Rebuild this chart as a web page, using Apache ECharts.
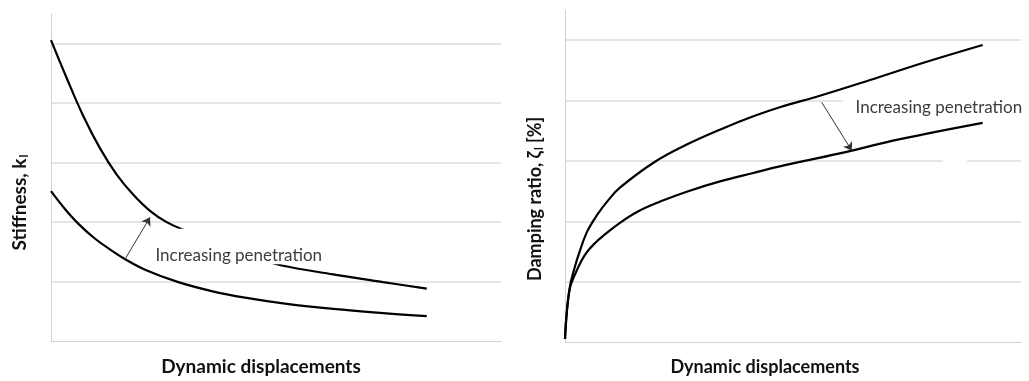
<!DOCTYPE html>
<html>
<head>
<meta charset="utf-8">
<script src="https://cdn.jsdelivr.net/npm/echarts@6/dist/echarts.min.js"></script>
<style>
  html, body { margin: 0; padding: 0; background: #ffffff; }
  #chart { width: 1029px; height: 381px; }
</style>
</head>
<body>
<div id="chart"></div>
<script>
// Stiffness vs dynamic displacement (left panel)
const stiffLowPenX  = [0, 0.35, 0.72, 1.09, 1.46, 1.83, 2.2, 2.57, 3.09, 3.6, 4.1, 4.6, 5.13, 6.27, 7.38, 8.35];
const stiffLowPenY  = [5.06, 4.42, 3.78, 3.24, 2.80, 2.46, 2.19, 2.0, 1.82, 1.65, 1.51, 1.39, 1.27, 1.12, 0.99, 0.88];
const stiffHighPenX = [0, 0.31, 0.61, 0.98, 1.35, 1.64, 2.09, 2.83, 3.57, 4.31, 5.2, 6.27, 7.38, 8.35];
const stiffHighPenY = [2.52, 2.22, 1.97, 1.72, 1.52, 1.38, 1.20, 0.99, 0.84, 0.73, 0.63, 0.54, 0.47, 0.42];

// Damping ratio vs dynamic displacement (right panel)
const dampLowPenX  = [0, 0.04, 0.11, 0.2, 0.3, 0.48, 0.7, 0.95, 1.21, 1.94, 2.67, 3.5, 4.13, 4.71, 5.59, 6.69, 7.88, 9.16];
const dampLowPenY  = [0.05, 0.5, 0.93, 1.2, 1.45, 1.82, 2.10, 2.35, 2.56, 2.97, 3.27, 3.55, 3.74, 3.89, 4.08, 4.34, 4.63, 4.92];
const dampHighPenX = [0, 0.04, 0.11, 0.22, 0.35, 0.48, 0.66, 0.84, 1.16, 1.57, 2.1, 2.67, 3.4, 4.13, 4.71, 6.0, 7.35, 9.16];
const dampHighPenY = [0.05, 0.5, 0.9, 1.12, 1.33, 1.49, 1.64, 1.76, 1.95, 2.15, 2.33, 2.49, 2.66, 2.80, 2.91, 3.12, 3.36, 3.63];

// Annotations: arrow start/end, text anchor and the white panel behind the text (data units)
const stiffArrow = [[1.64, 1.37], [2.2, 2.08]];
const stiffLabelAt = [2.31, 1.44];
const stiffLabelPanel = [[2.2, 1.29], [6.2, 1.89]];
const dampArrow = [[5.63, 3.97], [6.29, 3.17]];
const dampLabelAt = [6.36, 3.88];
const dampLabelPanel = [[6.10, 3.72], [10, 4.10]];
const dampGapPanel = [[8.29, 2.96], [8.82, 3.05]];

const annotationText = 'Increasing penetration';
const xTitle = 'Dynamic displacements';

// Axis ranges
const xMin = 0, xMax = 10;
const yMin = 0, yMax = 5.5, yStep = 1;

const pairs = (xs, ys) => xs.map((x, i) => [x, ys[i]]);

const GRID_COLOR = '#dcdcdc';
const AXIS_COLOR = '#d2d2d2';
const TITLE_FONT = 'Lato, "Liberation Sans", sans-serif';

function xAxisFor(idx, size, pad) {
  return {
    type: 'value', gridIndex: idx, min: xMin, max: xMax, interval: 1,
    name: xTitle, nameLocation: 'middle', nameGap: 16,
    nameTextStyle: { fontFamily: TITLE_FONT, fontWeight: 'bold', fontSize: size, color: '#111', padding: pad },
    axisLine: { show: true, onZero: false, lineStyle: { color: AXIS_COLOR, width: 1 } },
    axisTick: { show: false }, axisLabel: { show: false }, splitLine: { show: false }
  };
}

function titleRich(size) {
  return {
    t: { fontFamily: TITLE_FONT, fontWeight: 'bold', fontSize: size, color: '#111' },
    s: { fontFamily: TITLE_FONT, fontWeight: 'bold', fontSize: Math.round(size * 0.63), color: '#111', verticalAlign: 'bottom', padding: [9, 0, 0, 1] }
  };
}

function yAxisFor(idx, name, size, gap, pad) {
  return {
    type: 'value', gridIndex: idx, min: yMin, max: yMax, interval: yStep,
    name: name, nameLocation: 'middle', nameGap: gap, nameRotate: 90,
    nameTextStyle: { fontFamily: TITLE_FONT, fontWeight: 'bold', fontSize: size, color: '#111', padding: pad, rich: titleRich(size) },
    axisLine: { show: true, onZero: false, lineStyle: { color: AXIS_COLOR, width: 1 } },
    axisTick: { show: false }, axisLabel: { show: false },
    splitLine: { show: true, showMinLine: false, showMaxLine: false, lineStyle: { color: GRID_COLOR, width: 1.5 } }
  };
}

function curve(idx, xs, ys) {
  return {
    type: 'line', xAxisIndex: idx, yAxisIndex: idx, data: pairs(xs, ys),
    smooth: 0.4, showSymbol: false, symbol: 'none', silent: true, z: 2,
    lineStyle: { color: '#000', width: 2.2 }
  };
}

function annotation(idx, at, arrow, panels) {
  return {
    type: 'scatter', xAxisIndex: idx, yAxisIndex: idx, data: [at], z: 10,
    symbolSize: 1, itemStyle: { color: 'rgba(0,0,0,0)' }, silent: true,
    label: {
      show: true, position: 'right', distance: 0, formatter: annotationText, opacity: 1,
      fontFamily: 'Lato, "Liberation Sans", sans-serif', fontSize: 17, lineHeight: 18,
      color: '#3d3d3d'
    },
    labelLayout: { hideOverlap: false },
    emphasis: { disabled: true },
    markArea: {
      silent: true, z: 5, animation: false,
      itemStyle: { color: '#ffffff', opacity: 1, borderWidth: 0 },
      label: { show: false }, emphasis: { disabled: true },
      data: panels.map(p => [{ coord: p[0] }, { coord: p[1] }])
    },
    markLine: {
      silent: true, animation: false, symbol: ['none', 'arrow'], symbolSize: 8, z: 6,
      label: { show: false }, emphasis: { disabled: true },
      lineStyle: { color: '#333', width: 1, type: 'solid', opacity: 1 },
      data: [[{ coord: arrow[0] }, { coord: arrow[1] }]]
    }
  };
}

const chart = echarts.init(document.getElementById('chart'), null, { renderer: 'canvas' });
chart.setOption({
  animation: false,
  backgroundColor: '#ffffff',
  grid: [
    { left: 51, right: 528, top: 14, bottom: 35 },
    { left: 565, right: 8, top: 10, bottom: 36 }
  ],
  xAxis: [xAxisFor(0, 19, [0, 30, 0, 0]), xAxisFor(1, 18, [0, 56, 0, 0])],
  yAxis: [
    yAxisFor(0, '{t|Stiffness, k}{s|l}', 19, 21, [0, 50, 0, 0]),
    yAxisFor(1, '{t|Damping ratio, \u03b6}{s|l}{t| [%]}', 18, 20, [0, 46, 0, 0])
  ],
  series: [
    curve(0, stiffLowPenX, stiffLowPenY),
    curve(0, stiffHighPenX, stiffHighPenY),
    curve(1, dampLowPenX, dampLowPenY),
    curve(1, dampHighPenX, dampHighPenY),
    annotation(0, stiffLabelAt, stiffArrow, [stiffLabelPanel]),
    annotation(1, dampLabelAt, dampArrow, [dampLabelPanel, dampGapPanel])
  ]
});
</script>
</body>
</html>
